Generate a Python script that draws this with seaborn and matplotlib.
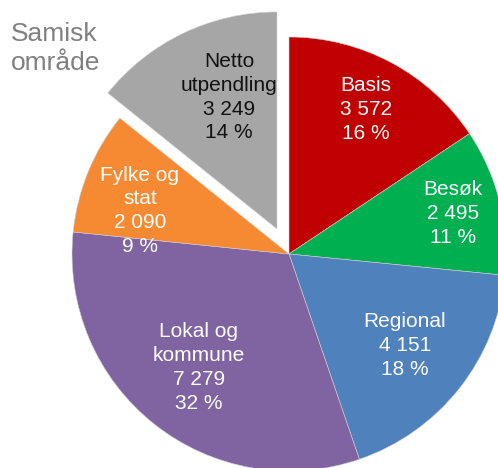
import numpy as np
import matplotlib
matplotlib.use("Agg")
import matplotlib.pyplot as plt
import seaborn as sns

# data
categories = ["Basis", "Besøk", "Regional", "Lokal og\nkommune", "Fylke og\nstat", "Netto\nutpendling"]
values = [3572, 2495, 4151, 7279, 2090, 3249]
colors = ["#C00000", "#00B050", "#4F81BD", "#8064A2", "#F58A33", "#A6A6A6"]
text_colors = ["white", "white", "white", "white", "white", "#111111"]
# label placement (fraction of radius, angle shift in degrees)
label_radius = [0.753, 0.778, 0.68, 0.667, 0.715, 0.647]
label_shift = [0, 0, 0, 0, 6.2, -5.6]
explode = [0, 0, 0, 0, 0, 0.128]

sns.set_theme(style="white")
plt.rcParams["font.family"] = ["Liberation Sans", "DejaVu Sans"]

fig = plt.figure(figsize=(4.98, 4.68), dpi=100)
ax = fig.add_axes([0, 0, 1, 1])

wedges, _ = ax.pie(values, colors=colors, startangle=90, counterclock=False,
                   explode=explode, radius=1,
                   wedgeprops=dict(linewidth=0.4, edgecolor="#d0d0d0"))

total = sum(values)
for w, cat, v, tc, r, s in zip(wedges, categories, values, text_colors, label_radius, label_shift):
    ang = np.deg2rad((w.theta1 + w.theta2) / 2 + s)
    cx, cy = w.center
    pct = round(v / total * 100)
    txt = f"{cat}\n{v:,}".replace(",", " ") + f"\n{pct} %"
    ax.text(cx + r * np.cos(ang), cy + r * np.sin(ang), txt, ha="center", va="center",
            color=tc, fontsize=15, linespacing=1.33)

ax.set_xlim(-289 / 217, (498 - 289) / 217)
ax.set_ylim(-(468 - 254) / 217, 254 / 217)
ax.set_aspect("auto")
ax.axis("off")

fig.text(11 / 498, 1 - 22 / 468, "Samisk\nområde", ha="left", va="top",
         color="#808080", fontsize=19, linespacing=1.25)

fig.savefig("out.png", dpi=100)
